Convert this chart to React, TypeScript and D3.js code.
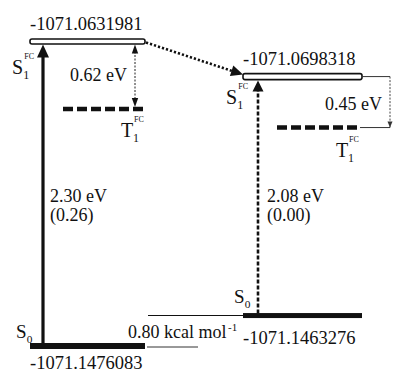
import React from "react";
import * as d3 from "d3";

// Schematic energy-level data (two geometries)
const columns = [0, 1];
const s1Energies = ["-1071.0631981", "-1071.0698318"];
const s0Energies = ["-1071.1476083", "-1071.1463276"];
const s1Levels = [2.3, 2.035];
const t1Levels = [1.79, 1.65];
const s0Levels = [0, 0.23];
const excitationLabels = ["2.30 eV", "2.08 eV"];
const oscillatorLabels = ["(0.26)", "(0.00)"];
const gapLabels = ["0.62 eV", "0.45 eV"];
const relativeLabel = "0.80 kcal mol";

const FONT = "Liberation Serif, Times New Roman, Times, DejaVu Serif, serif";

function head(x1: number, y1: number, x2: number, y2: number, len: number, hw: number) {
  const a = Math.atan2(y2 - y1, x2 - x1);
  const bx = x2 - len * Math.cos(a);
  const by = y2 - len * Math.sin(a);
  const px = -Math.sin(a) * hw;
  const py = Math.cos(a) * hw;
  return `${x2},${y2} ${bx + px},${by + py} ${bx - px},${by - py}`;
}

function Sym({ x, y, main, sub, sup, size = 20 }: any) {
  const w = main === "T" ? size * 0.6 : size * 0.56;
  return (
    <g style={{ fontFamily: FONT }} fill="#111">
      <text x={x} y={y} fontSize={size}>{main}</text>
      {sub && <text x={x + w} y={y + 5} fontSize={size * 0.6}>{sub}</text>}
      {sup && <text x={x + w + 1} y={y - 15} fontSize={size * 0.4}>{sup}</text>}
    </g>
  );
}

export default function App() {
  const W = 393, H = 373;
  const x = d3.scaleLinear().domain([0, 1]).range([30, 243]);
  const y = d3.scaleLinear().domain([0, 2.3]).range([346, 41.5]);
  const barW = [115, 119];
  const s1H = [5, 6];
  const s0H = [6, 5];

  const xl = x(0), xr = x(1);
  const yS1 = columns.map((c) => y(s1Levels[c]));
  const yS0 = columns.map((c) => y(s0Levels[c]));
  const yT1 = columns.map((c) => y(t1Levels[c]));

  const ax0 = xl + 13;
  const ax1 = xr + 15;
  const dStart = [xl + barW[0] + 1, yS1[0] + 1];
  const dEnd = [xr, yS1[1] - 2];
  const dAng = Math.atan2(dEnd[1] - dStart[1], dEnd[0] - dStart[0]);

  return (
    <svg width={W} height={H} style={{ position: "absolute", left: 0, top: 0, background: "#fff", fontFamily: FONT }}>
      {/* S1 bars (open) */}
      {columns.map((c) => (
        <rect key={"s1" + c} x={x(c)} y={yS1[c] - s1H[c] / 2} width={barW[c]} height={s1H[c]}
          rx={2} fill="#fff" stroke="#111" strokeWidth={1.6} />
      ))}
      {/* T1 dashed bars */}
      {columns.map((c) => (
        <line key={"t1" + c} x1={x(c) + 33 + c} x2={x(c) + 113 + 4 * c} y1={yT1[c]} y2={yT1[c]}
          stroke="#111" strokeWidth={4.5} strokeDasharray="10 4" />
      ))}
      {/* S0 bars (filled) */}
      {columns.map((c) => (
        <rect key={"s0" + c} x={x(c)} y={yS0[c] - s0H[c] / 2} width={barW[c]} height={s0H[c]} fill="#111" />
      ))}

      {/* energy labels */}
      <g style={{ fontFamily: FONT }} fontSize={18.5} fill="#111">
        <text x={xl} y={yS1[0] - 12}>{s1Energies[0]}</text>
        <text x={xr} y={yS1[1] - 12}>{s1Energies[1]}</text>
        <text x={xl} y={yS0[0] + 23}>{s0Energies[0]}</text>
        <text x={xr} y={yS0[1] + 28}>{s0Energies[1]}</text>
      </g>

      {/* left solid excitation arrow */}
      <line x1={ax0} x2={ax0} y1={yS0[0] - 3} y2={yS1[0] + 14} stroke="#111" strokeWidth={3.2} />
      <polygon points={head(ax0, 200, ax0, yS1[0] + 3, 13, 6)} fill="#111" />

      {/* right dashed excitation arrow */}
      <line x1={ax1} x2={ax1} y1={yS0[1] - 2} y2={yS1[1] + 12} stroke="#111" strokeWidth={2.6} strokeDasharray="4 2" />
      <polygon points={head(ax1, 200, ax1, yS1[1] + 4, 11, 5.5)} fill="#111" />

      {/* diagonal dotted relaxation arrow */}
      <line x1={dStart[0]} y1={dStart[1]} x2={dEnd[0] - 10 * Math.cos(dAng)} y2={dEnd[1] - 10 * Math.sin(dAng)}
        stroke="#111" strokeWidth={2.6} strokeDasharray="2.2 2" />
      <polygon points={head(dStart[0], dStart[1], dEnd[0], dEnd[1], 12, 5.5)} fill="#111" />

      {/* 0.62 eV gap double arrow */}
      <line x1={xl + 105} x2={xl + 105} y1={yS1[0] + 10} y2={yT1[0] - 8} stroke="#222" strokeWidth={1} strokeDasharray="2 1.5" />
      <polygon points={head(xl + 105, 80, xl + 105, yS1[0] + 3, 9, 3.2)} fill="#111" />
      <polygon points={head(xl + 105, 80, xl + 105, yT1[0] - 2, 9, 3.2)} fill="#111" />

      {/* 0.45 eV bracket */}
      <line x1={xr + barW[1]} x2={390} y1={yS1[1]} y2={yS1[1]} stroke="#333" strokeWidth={1} />
      <line x1={390} x2={390} y1={yS1[1]} y2={yT1[1]} stroke="#444" strokeWidth={1} strokeDasharray="2 1.5" />
      <line x1={xr + 117} x2={390} y1={yT1[1]} y2={yT1[1]} stroke="#333" strokeWidth={1} />
      <polygon points={head(390, 100, 390, yT1[1], 6, 2.5)} fill="#333" />

      {/* 0.80 kcal/mol bracket */}
      <line x1={xl + 118} x2={xr} y1={yS0[1]} y2={yS0[1]} stroke="#111" strokeWidth={1.1} />
      <line x1={xl + 117} x2={xl + 168} y1={yS0[0] + 1} y2={yS0[0] + 1} stroke="#333" strokeWidth={1} />

      {/* gap / transition labels */}
      <g style={{ fontFamily: FONT }} fontSize={18} fill="#111">
        <text x={70} y={81}>{gapLabels[0]}</text>
        <text x={325} y={110}>{gapLabels[1]}</text>
        <text x={50} y={202}>{excitationLabels[0]}</text>
        <text x={50} y={221}>{oscillatorLabels[0]}</text>
        <text x={267} y={202}>{excitationLabels[1]}</text>
        <text x={267} y={221}>{oscillatorLabels[1]}</text>
        <text x={128} y={338}>{relativeLabel}</text>
        <text x={228} y={331} fontSize={11}>-1</text>
      </g>

      {/* state symbols */}
      <Sym x={12} y={74} main="S" sub="1" sup="FC" />
      <Sym x={226} y={104} main="S" sub="1" sup="FC" />
      <Sym x={121} y={137} main="T" sub="1" sup="FC" />
      <Sym x={336} y={157} main="T" sub="1" sup="FC" />
      <Sym x={16} y={338} main="S" sub="0" size={19} />
      <Sym x={234} y={303} main="S" sub="0" size={19} />
    </svg>
  );
}
